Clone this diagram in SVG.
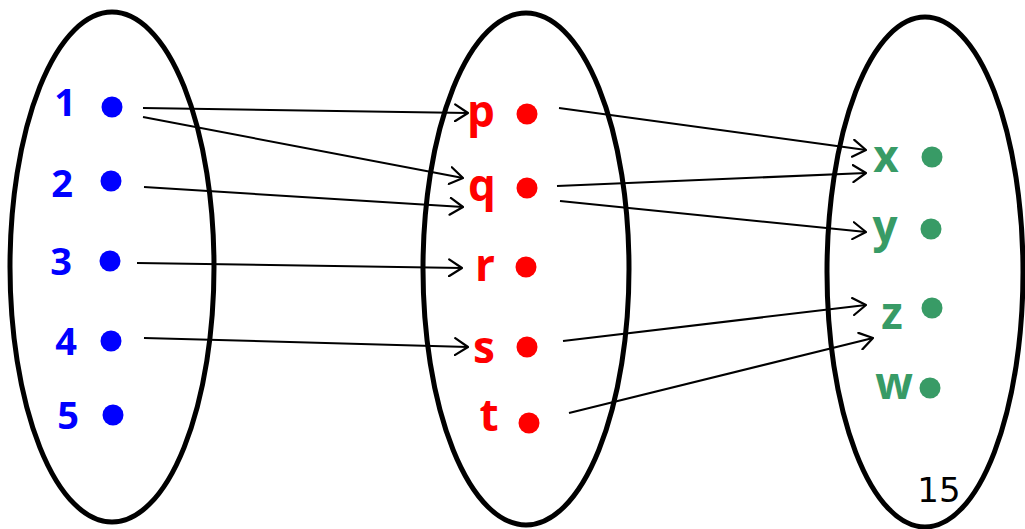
<svg xmlns="http://www.w3.org/2000/svg" width="1025" height="529" viewBox="0 0 1025 529">
<style>
.set{fill:none;stroke:#000;stroke-width:5}
.c{fill:none;stroke:#000;stroke-width:2;marker-end:url(#ah)}
.lb{font-family:"Open Sans","DejaVu Sans",sans-serif;font-weight:700;text-anchor:middle}
.b{fill:#0000ff}
.r{fill:#ff0000}
.g{fill:#389b66}
.num{font-family:"DejaVu Sans","Liberation Sans",sans-serif;font-size:34px;fill:#000}
</style>
<defs>
<marker id="ah" viewBox="0 0 15 19" refX="14" refY="9.5" markerWidth="15" markerHeight="19" markerUnits="userSpaceOnUse" orient="auto">
<path d="M1,1 L14,9.5 L1,18" fill="none" stroke="#000" stroke-width="2.2" stroke-linecap="round" stroke-linejoin="round"/>
</marker>
</defs>
<rect width="1025" height="529" fill="#fff"/>
<g id="setA">
<ellipse class="set" cx="112" cy="267" rx="102" ry="255"/>
</g>
<g id="setB">
<ellipse class="set" cx="526" cy="269" rx="103" ry="256"/>
</g>
<g id="setC">
<ellipse class="set" cx="925" cy="272" rx="98" ry="255"/>
</g>
<g id="n1"><text class="lb b" x="65" y="116" font-size="38">1</text><circle class="b" cx="112" cy="107" r="10.5"/></g>
<g id="n2"><text class="lb b" x="62" y="197" font-size="38">2</text><circle class="b" cx="111" cy="181" r="10.5"/></g>
<g id="n3"><text class="lb b" x="61" y="275" font-size="38">3</text><circle class="b" cx="110" cy="261" r="10.5"/></g>
<g id="n4"><text class="lb b" x="66" y="355" font-size="38">4</text><circle class="b" cx="111" cy="341" r="10.5"/></g>
<g id="n5"><text class="lb b" x="68" y="429" font-size="38">5</text><circle class="b" cx="113" cy="415" r="10.5"/></g>
<g id="np"><text class="lb r" x="481" y="127" font-size="44">p</text><circle class="r" cx="527" cy="114" r="10.5"/></g>
<g id="nq"><text class="lb r" x="482" y="201" font-size="44">q</text><circle class="r" cx="527" cy="188" r="10.5"/></g>
<g id="nr"><text class="lb r" x="485" y="281" font-size="44">r</text><circle class="r" cx="526" cy="267" r="10.5"/></g>
<g id="ns"><text class="lb r" x="484" y="363" font-size="44">s</text><circle class="r" cx="527" cy="347" r="10.5"/></g>
<g id="nt"><text class="lb r" x="489" y="431" font-size="44">t</text><circle class="r" cx="529" cy="423" r="10.5"/></g>
<g id="nx"><text class="lb g" x="886" y="172" font-size="44">x</text><circle class="g" cx="932" cy="157" r="10.5"/></g>
<g id="ny"><text class="lb g" x="885" y="242" font-size="44">y</text><circle class="g" cx="931" cy="229" r="10.5"/></g>
<g id="nz"><text class="lb g" x="892" y="329" font-size="44">z</text><circle class="g" cx="932" cy="308" r="10.5"/></g>
<g id="nw"><text class="lb g" x="894" y="399" font-size="44">w</text><circle class="g" cx="930" cy="388" r="10.5"/></g>
<g id="connectors">
<line class="c" x1="143" y1="108" x2="468" y2="113"/>
<line class="c" x1="143" y1="117" x2="463" y2="178"/>
<line class="c" x1="144" y1="187" x2="463" y2="207"/>
<line class="c" x1="137" y1="263" x2="462" y2="268"/>
<line class="c" x1="144" y1="338" x2="468" y2="347"/>
<line class="c" x1="559" y1="108" x2="866" y2="150"/>
<line class="c" x1="557" y1="186" x2="866" y2="173"/>
<line class="c" x1="560" y1="201" x2="866" y2="232"/>
<line class="c" x1="563" y1="341" x2="866" y2="305"/>
<line class="c" x1="569" y1="413" x2="873" y2="338"/>
</g>
<text class="num" x="939" y="502" text-anchor="middle">15</text>
</svg>
